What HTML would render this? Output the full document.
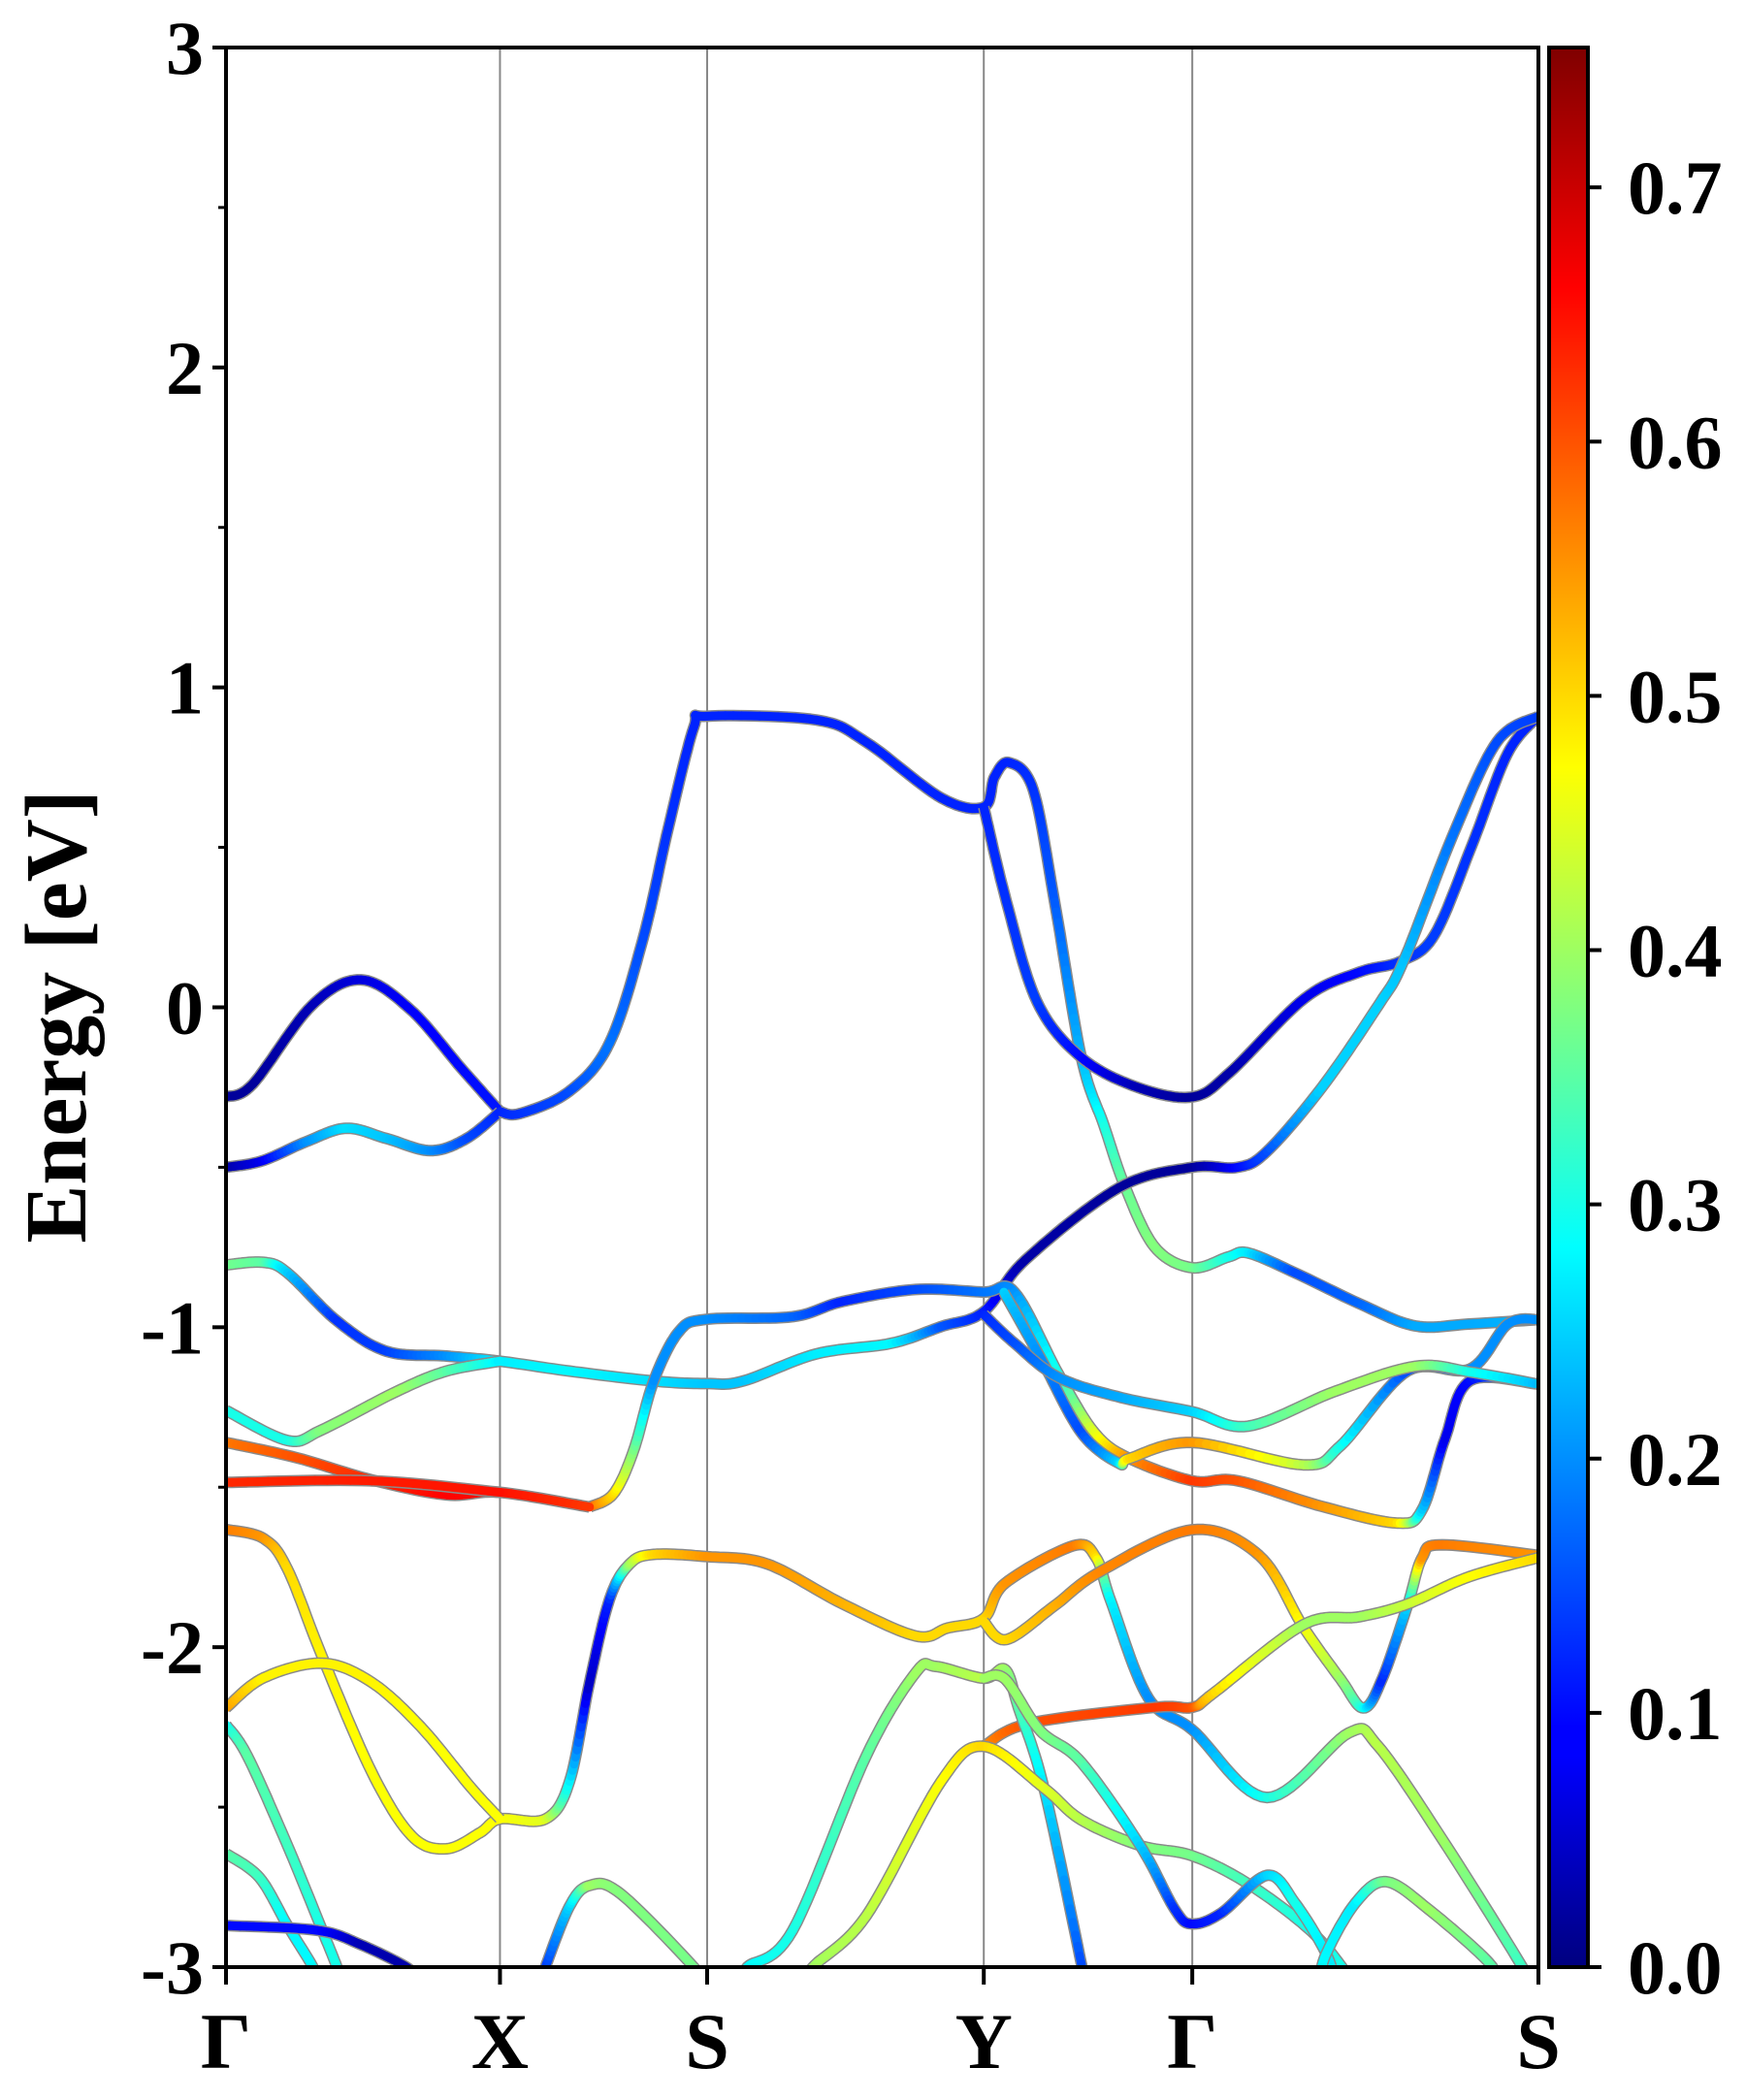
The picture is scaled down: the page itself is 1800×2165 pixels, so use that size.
<!DOCTYPE html>
<html><head><meta charset="utf-8"><style>
html,body{margin:0;padding:0;background:#fff;}
svg text{font-family:"Liberation Serif",serif;font-weight:bold;fill:#000;}
</style></head><body>
<svg id="chart" width="1800" height="2160" viewBox="0 0 1800 2160" xmlns="http://www.w3.org/2000/svg">
<defs>
<clipPath id="plotclip"><rect x="233" y="49" width="1353" height="1979"/></clipPath>
<linearGradient id="jet" x1="0" y1="1" x2="0" y2="0">
<stop offset="0" stop-color="#00007f"/><stop offset="0.11" stop-color="#0000ff"/><stop offset="0.125" stop-color="#0000ff"/>
<stop offset="0.375" stop-color="#00ffff"/><stop offset="0.625" stop-color="#ffff00"/><stop offset="0.875" stop-color="#ff0000"/><stop offset="1" stop-color="#7f0000"/>
</linearGradient>
</defs>
<g id="vlines"></g>
<g id="bands" clip-path="url(#plotclip)"></g>
<rect x="233" y="49" width="1353" height="1979" fill="none" stroke="#000" stroke-width="4"/>
<g id="axes"></g>
<rect x="1597" y="49" width="40" height="1979" fill="url(#jet)" stroke="#000" stroke-width="4"/>
<text transform="translate(88,1048) rotate(-90)" text-anchor="middle" font-size="90">Energy [eV]</text>
</svg>
<script>
const kTicks = [0,205,360,567,723,982];
const kLabels = ["Γ","X","S","Y","Γ","S"];
const eTicks = [3,2,1,0,-1,-2,-3];
const eMinor = [2.5,1.5,0.5,-0.5,-1.5,-2.5];
const cbTicks = [0.0,0.1,0.2,0.3,0.4,0.5,0.6,0.7];
const cbMax = 0.755;

const bandC1 = [[0,-0.28,.02],[20,-0.24,.02],[64,0.005,.04],[101,0.086,.07],[138,-0.007,.09],[176,-0.19,.1],[205,-0.326,.11]];
const bandC2 = [[0,-0.5,.02],[27,-0.48,.08],[60,-0.42,.2],[90,-0.378,.26],[120,-0.41,.24],[153,-0.448,.2],[180,-0.41,.15],[205,-0.326,.12]];
const bandC3 = [[205,-0.326,.12],[220,-0.332,.13],[257,-0.262,.15],[287,-0.111,.18],[312,0.214,.15],[331,0.562,.13],[350,0.875,.12],[360,0.91,.12],[442,0.898,.12],[479,0.829,.12],[535,0.655,.12],[567,0.626,.12],[575,0.72,.12],[586,0.765,.12],[604,0.68,.13],[620,0.33,.16],[640,-0.157,.23],[657,-0.37,.3],[673,-0.564,.36],[695,-0.75,.38],[723,-0.814,.37],[750,-0.78,.3],[765,-0.768,.27],[800,-0.83,.15],[850,-0.93,.17],[890,-0.996,.22],[930,-0.99,.22],[982,-0.976,.23]];
const bandC4 = [[567,0.626,.12],[584,0.33,.13],[607,0.016,.14],[640,-0.157,.1],[682,-0.25,.04],[723,-0.28,.02],[751,-0.204,.03],[807,0.028,.08],[848,0.11,.1],[879,0.144,.13],[904,0.225,.14],[932,0.504,.13],[959,0.794,.12],[982,0.91,.12]];
const bandQ = [[0,-0.805,.37],[28,-0.797,.35],[46,-0.83,.25],[83,-0.98,.13],[120,-1.075,.14],[165,-1.09,.2],[205,-1.106,.27],[257,-1.137,.28],[320,-1.168,.26],[360,-1.176,.24],[387,-1.168,.24],[442,-1.083,.27],[498,-1.05,.28],[535,-0.998,.16],[567,-0.951,.12],[598,-0.79,.03],[668,-0.564,.02],[723,-0.5,.02],[757,-0.5,.1],[779,-0.45,.15],[820,-0.25,.25],[862,0.005,.25],[881,0.144,.24],[918,0.538,.18],[951,0.83,.15],[982,0.91,.14]];
const bandR = [[0,-1.26,.3],[46,-1.354,.3],[72,-1.32,.38],[128,-1.2,.4],[165,-1.137,.35],[205,-1.106,.27]];
const bandS = [[272,-1.562,.6],[290,-1.52,.5],[305,-1.385,.38],[320,-1.168,.2],[339,-1.013,.2],[360,-0.975,.2],[424,-0.967,.17],[461,-0.92,.12],[516,-0.882,.15],[567,-0.89,.18],[590,-0.89,.2],[623,-1.147,.3],[650,-1.33,.45],[676,-1.41,.55],[723,-1.48,.62],[757,-1.48,.6],[820,-1.56,.55],[876,-1.612,.5],[895,-1.57,.25],[912,-1.35,.08],[931,-1.167,.1],[982,-1.178,.22]];
const bandT = [[0,-1.36,.57],[53,-1.408,.6],[109,-1.477,.63],[165,-1.524,.66],[205,-1.516,.65],[272,-1.562,.62]];
const bandU = [[0,-1.485,.63],[109,-1.48,.64],[205,-1.516,.65]];
const bandV = [[0,-1.632,.57],[28,-1.66,.55],[46,-1.756,.5],[72,-2.03,.48],[109,-2.39,.47],[139,-2.59,.47],[165,-2.63,.47],[190,-2.58,.47],[205,-2.537,.47],[239,-2.537,.45],[257,-2.42,.28],[272,-2.11,.05],[287,-1.85,.12],[302,-1.74,.4],[320,-1.71,.5],[360,-1.717,.55],[405,-1.74,.55],[461,-1.864,.53],[516,-1.965,.5],[540,-1.94,.5],[567,-1.91,.5],[583,-1.8,.55],[634,-1.683,.57],[651,-1.72,.5],[662,-1.855,.28],[690,-2.158,.2],[723,-2.258,.2],[779,-2.47,.3],[840,-2.268,.4],[862,-2.309,.42],[910,-2.6,.4],[968,-2.986,.33],[975,-3.05,.33]];
const bandE = [[567,-1.92,.5],[584,-1.976,.5],[620,-1.87,.53],[654,-1.764,.56],[723,-1.633,.57],[773,-1.713,.55],[806,-1.936,.47],[834,-2.1,.4],[851,-2.19,.3],[865,-2.1,.12],[884,-1.87,.25],[895,-1.72,.55],[910,-1.68,.57],[982,-1.713,.55]];
const bandL = [[567,-2.309,.55],[601,-2.238,.6],[695,-2.188,.62],[723,-2.188,.6],[740,-2.14,.5],[806,-1.93,.4],[848,-1.905,.4],[884,-1.865,.43],[930,-1.78,.47],[982,-1.72,.5]];
const bandW = [[0,-2.19,.55],[28,-2.096,.48],[72,-2.05,.48],[109,-2.11,.48],[146,-2.25,.47],[183,-2.437,.47],[205,-2.537,.47]];
const bandX1 = [[0,-2.243,.28],[16,-2.34,.35],[46,-2.62,.33],[72,-2.885,.3],[83,-3.0,.3],[86,-3.05,.3]];
const bandX2 = [[0,-2.645,.35],[25,-2.72,.33],[46,-2.87,.28],[65,-3.0,.28],[68,-3.05,.28]];
const bandX3 = [[0,-2.87,.1],[68,-2.885,.1],[101,-2.93,.04],[135,-3.0,.03],[140,-3.03,.03]];
const bandX4 = [[236,-3.05,.12],[239,-3.0,.13],[257,-2.81,.25],[272,-2.745,.4],[295,-2.77,.38],[350,-3.0,.37],[355,-3.05,.37]];
const bandX5 = [[386,-3.05,.28],[390,-3.0,.28],[424,-2.885,.3],[479,-2.34,.35],[516,-2.08,.4],[531,-2.06,.4],[567,-2.097,.42],[583,-2.07,.4],[593,-2.19,.35],[612,-2.44,.27],[640,-2.99,.15],[642,-3.05,.15]];
const bandX6 = [[435,-3.05,.4],[439,-3.0,.4],[479,-2.84,.42],[535,-2.42,.47],[567,-2.31,.5],[612,-2.44,.45],[640,-2.54,.42],[684,-2.62,.38],[723,-2.652,.37],[765,-2.74,.33],[810,-2.88,.3],[835,-3.0,.3],[840,-3.05,.3]];
const bandK = [[567,-2.097,.4],[583,-2.1,.4],[609,-2.26,.38],[640,-2.36,.35],[684,-2.62,.25],[710,-2.82,.13],[723,-2.865,.1],[745,-2.83,.12],[779,-2.713,.25],[800,-2.8,.3],[823,-2.956,.27],[830,-3.05,.27]];
const bandP = [[818,-3.05,.28],[823,-2.96,.28],[845,-2.8,.27],[868,-2.733,.37],[900,-2.82,.4],[945,-2.986,.35],[950,-3.05,.35]];
const bandC = [[582,-0.89,.25],[610,-1.1,.2],[640,-1.33,.15],[668,-1.425,.25],[676,-1.41,.5],[723,-1.36,.55],[806,-1.43,.42],[834,-1.37,.3],[884,-1.137,.15],[931,-1.13,.2],[959,-0.99,.2],[982,-0.976,.2]];
const bandB = [[567,-0.96,.12],[590,-1.05,.15],[623,-1.157,.2],[670,-1.22,.22],[723,-1.264,.25],[765,-1.309,.33],[830,-1.2,.4],[890,-1.122,.4],[931,-1.14,.3],[982,-1.178,.23]];

const allBands = [bandC1,bandC2,bandC3,bandC4,bandQ,bandR,bandS,bandT,bandU,bandV,bandE,bandL,bandW,bandX1,bandX2,bandX3,bandX4,bandX5,bandX6,bandK,bandP,bandC,bandB];

const X0=233,X1=1586,Y0=49,Y1=2028;
function xs(k){return X0+(k/982)*(X1-X0);}
function ys(e){return Y0+(3-e)/6*(Y1-Y0);}
function cy(v){return Y1-(v/cbMax)*(Y1-Y0);}
function cl(v){return Math.max(0,Math.min(1,v));}
function jet(w){const t=cl(w/cbMax);const r=cl(1.5-Math.abs(4*t-3)),g=cl(1.5-Math.abs(4*t-2)),b=cl(1.5-Math.abs(4*t-1));
return 'rgb('+Math.round(r*255)+','+Math.round(g*255)+','+Math.round(b*255)+')';}
const NS="http://www.w3.org/2000/svg";
function mk(tag,attrs,parent){const el=document.createElementNS(NS,tag);for(const a in attrs)el.setAttribute(a,attrs[a]);parent.appendChild(el);return el;}

const vl=document.getElementById('vlines');
kTicks.slice(1,5).forEach(k=>{
  const l=mk('line',{x1:xs(k),x2:xs(k),y1:Y0,y2:Y1,stroke:'#888','stroke-width':2},vl);
  
  
});

const bg=document.getElementById('bands');
allBands.forEach((band,bi)=>{
  const P=band.map(p=>[xs(p[0]),ys(p[1]),p[2]]);
  const pts=[];
  for(let i=0;i<P.length-1;i++){
    const p0=P[Math.max(0,i-1)],p1=P[i],p2=P[i+1],p3=P[Math.min(P.length-1,i+2)];
    const n=14;
    for(let s=0;s<n;s++){const t=s/n,t2=t*t,t3=t2*t;
      const f=(a,b,c,d)=>0.5*((2*b)+(-a+c)*t+(2*a-5*b+4*c-d)*t2+(-a+3*b-3*c+d)*t3);
      pts.push([f(p0[0],p1[0],p2[0],p3[0]),f(p0[1],p1[1],p2[1],p3[1]),p1[2]+(p2[2]-p1[2])*t]);}
  }
  const last=P[P.length-1];pts.push([last[0],last[1],last[2]]);
  const g=mk('g',{},bg);
  
  
  const d='M'+pts.map(p=>p[0].toFixed(1)+','+p[1].toFixed(1)).join('L');
  const o=mk('path',{d:d,fill:'none',stroke:'#8a8a8a','stroke-width':12,'stroke-linejoin':'round'},g);
  
  
  for(let i=0;i<pts.length-1;i++){
    const a=pts[i],b=pts[i+1];
    const s=mk('line',{x1:a[0].toFixed(1),y1:a[1].toFixed(1),x2:b[0].toFixed(1),y2:b[1].toFixed(1),stroke:jet((a[2]+b[2])/2),'stroke-width':9,'stroke-linecap':'round'},g);
    
    
  }
});

const ax=document.getElementById('axes');
eTicks.forEach(e=>{
  const t=mk('line',{x1:X0-14,x2:X0,y1:ys(e),y2:ys(e),stroke:'#000','stroke-width':4},ax);
  
  
  const tx=mk('text',{x:210,y:ys(e)+27,'text-anchor':'end','font-size':78},ax);
  tx.textContent=String(e);
  
  
});
eMinor.forEach(e=>{
  const t=mk('line',{x1:X0-8,x2:X0,y1:ys(e),y2:ys(e),stroke:'#000','stroke-width':3},ax);
  
  
});
kTicks.forEach((k,i)=>{
  const t=mk('line',{x1:xs(k),x2:xs(k),y1:Y1,y2:Y1+18,stroke:'#000','stroke-width':4},ax);
  
  
  const tx=mk('text',{x:xs(k),y:2132,'text-anchor':'middle','font-size':82},ax);
  tx.textContent=kLabels[i];
  
  
});
cbTicks.forEach(v=>{
  const t=mk('line',{x1:1637,x2:1651,y1:cy(v),y2:cy(v),stroke:'#000','stroke-width':4},ax);
  
  
  const tx=mk('text',{x:1678,y:cy(v)+27,'text-anchor':'start','font-size':78},ax);
  tx.textContent=v.toFixed(1);
  
  
});
</script>
</body></html>
